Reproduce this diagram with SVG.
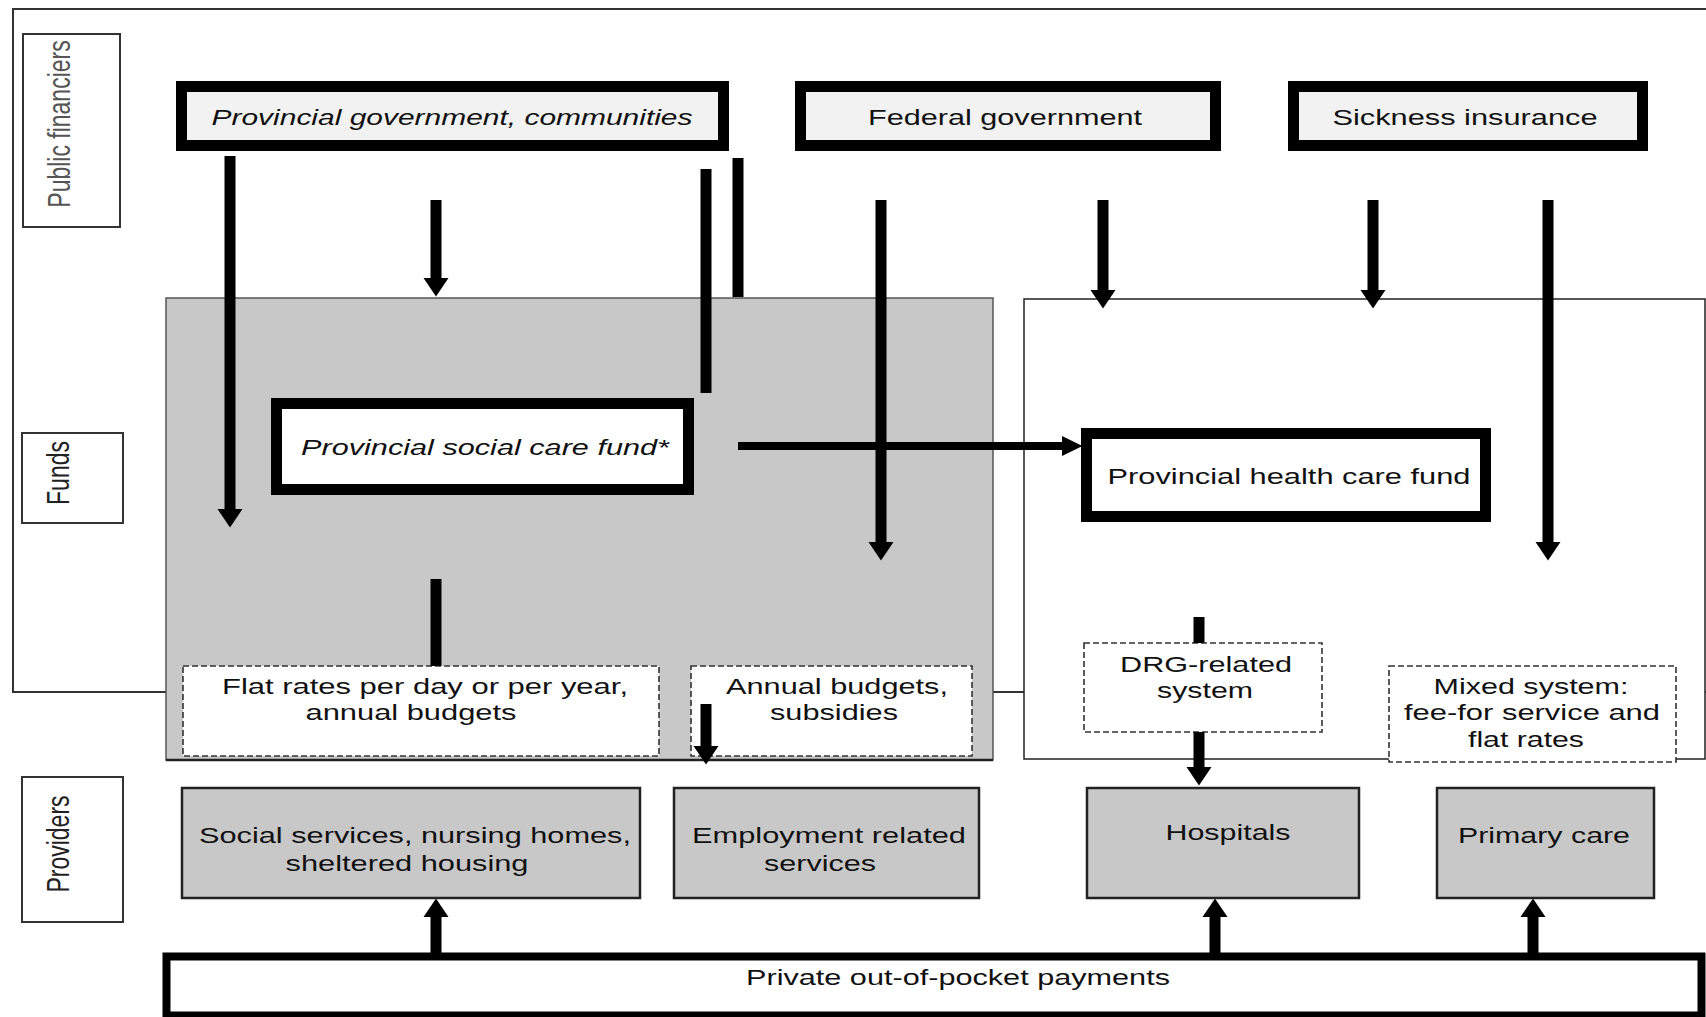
<svg xmlns="http://www.w3.org/2000/svg" width="1706" height="1017" viewBox="0 0 1706 1017">
<style>
.t{font-family:"Liberation Sans",Arial,Helvetica,sans-serif;font-size:22px;fill:#111;text-anchor:middle}
.i{font-style:italic}
.lbl{font-family:"Liberation Sans",Arial,Helvetica,sans-serif;font-size:23px;fill:#222;text-anchor:middle}
.pf{fill:#555}
.title rect{fill:#f2f2f2;stroke:#000;stroke-width:11}
.fund rect{fill:#fff;stroke:#000;stroke-width:11}
.prov rect{fill:#c8c8c8;stroke:#222;stroke-width:2.5}
.dash rect{fill:#fff;stroke:#333;stroke-width:1.6;stroke-dasharray:6 3}
.lab rect{fill:#fff;stroke:#333;stroke-width:2}
.v{stroke:#000;stroke-width:11;fill:none}
.h{stroke:#000;stroke-width:8;fill:none}
</style>
<defs>
<marker id="ah" viewBox="0 -13 19 26" refX="0" refY="0" markerWidth="19" markerHeight="26" markerUnits="userSpaceOnUse" orient="auto">
<path d="M0,-12.5 L18.5,0 L0,12.5 z" fill="#000"/>
</marker>
<marker id="ahh" viewBox="0 -11 21 22" refX="0" refY="0" markerWidth="21" markerHeight="22" markerUnits="userSpaceOnUse" orient="auto">
<path d="M0,-10 L20.5,0 L0,10 z" fill="#000"/>
</marker>
</defs>
<rect width="1706" height="1017" fill="#fff"/>

<g id="frame">
<rect x="13" y="9" width="1720" height="683" fill="none" stroke="#333" stroke-width="2"/>
</g>

<g id="label-public-financiers" class="lab">
<rect x="23" y="34" width="97" height="193"/>
<text class="lbl pf" transform="translate(70,124) scale(1.39,1) rotate(-90)">Public financiers</text>
</g>
<g id="label-funds" class="lab">
<rect x="22" y="433" width="101" height="90"/>
<text class="lbl" transform="translate(69,473) scale(1.39,1) rotate(-90)">Funds</text>
</g>
<g id="label-providers" class="lab">
<rect x="22" y="777" width="101" height="145"/>
<text class="lbl" transform="translate(69,844) scale(1.39,1) rotate(-90)">Providers</text>
</g>

<g id="region-social">
<rect x="166" y="298" width="827" height="462" fill="#c8c8c8" stroke="#555" stroke-width="1.5"/>
<line x1="166" y1="760" x2="993" y2="760" stroke="#222" stroke-width="2.5"/>
</g>
<g id="region-health">
<rect x="1024" y="299" width="681" height="460" fill="#fff" stroke="#222" stroke-width="1.5"/>
</g>

<g id="provincial-government" class="title">
<rect x="181.5" y="86.5" width="542" height="59"/>
<text class="t i" x="452" y="125" textLength="481" lengthAdjust="spacingAndGlyphs">Provincial government, communities</text>
</g>
<g id="federal-government" class="title">
<rect x="800.5" y="86.5" width="415" height="59"/>
<text class="t" x="1005" y="125" textLength="274" lengthAdjust="spacingAndGlyphs">Federal government</text>
</g>
<g id="sickness-insurance" class="title">
<rect x="1293.5" y="86.5" width="349" height="59"/>
<text class="t" x="1465" y="125" textLength="265" lengthAdjust="spacingAndGlyphs">Sickness insurance</text>
</g>

<g id="social-care-fund" class="fund">
<rect x="276.5" y="403.5" width="412" height="86"/>
<text class="t i" x="485" y="455" textLength="368" lengthAdjust="spacingAndGlyphs">Provincial social care fund*</text>
</g>
<g id="health-care-fund" class="fund">
<rect x="1086.5" y="433.5" width="399" height="83"/>
<text class="t" x="1289" y="484" textLength="363" lengthAdjust="spacingAndGlyphs">Provincial health care fund</text>
</g>

<g id="flat-rates" class="dash">
<rect x="183" y="666" width="476" height="90"/>
<text class="t" x="425" y="694" textLength="406" lengthAdjust="spacingAndGlyphs">Flat rates per day or per year,</text>
<text class="t" x="411" y="720" textLength="211" lengthAdjust="spacingAndGlyphs">annual budgets</text>
</g>
<g id="annual-budgets" class="dash">
<rect x="691" y="666" width="281" height="90"/>
<text class="t" x="837" y="694" textLength="222" lengthAdjust="spacingAndGlyphs">Annual budgets,</text>
<text class="t" x="834" y="720" textLength="128" lengthAdjust="spacingAndGlyphs">subsidies</text>
</g>
<g id="drg-system" class="dash">
<rect x="1084" y="643" width="238" height="89"/>
<text class="t" x="1206" y="672" textLength="172" lengthAdjust="spacingAndGlyphs">DRG-related</text>
<text class="t" x="1205" y="698" textLength="96" lengthAdjust="spacingAndGlyphs">system</text>
</g>
<g id="mixed-system" class="dash">
<rect x="1389" y="666" width="287" height="96"/>
<text class="t" x="1531" y="694" textLength="195" lengthAdjust="spacingAndGlyphs">Mixed system:</text>
<text class="t" x="1532" y="720" textLength="256" lengthAdjust="spacingAndGlyphs">fee-for service and</text>
<text class="t" x="1526" y="747" textLength="116" lengthAdjust="spacingAndGlyphs">flat rates</text>
</g>

<g id="social-services" class="prov">
<rect x="182" y="788" width="458" height="110"/>
<text class="t" x="415" y="843" textLength="432" lengthAdjust="spacingAndGlyphs">Social services, nursing homes,</text>
<text class="t" x="407" y="871" textLength="243" lengthAdjust="spacingAndGlyphs">sheltered housing</text>
</g>
<g id="employment-services" class="prov">
<rect x="674" y="788" width="305" height="110"/>
<text class="t" x="829" y="843" textLength="274" lengthAdjust="spacingAndGlyphs">Employment related</text>
<text class="t" x="820" y="871" textLength="112" lengthAdjust="spacingAndGlyphs">services</text>
</g>
<g id="hospitals" class="prov">
<rect x="1087" y="788" width="272" height="110"/>
<text class="t" x="1228" y="840" textLength="125" lengthAdjust="spacingAndGlyphs">Hospitals</text>
</g>
<g id="primary-care" class="prov">
<rect x="1437" y="788" width="217" height="110"/>
<text class="t" x="1544" y="843" textLength="172" lengthAdjust="spacingAndGlyphs">Primary care</text>
</g>

<g id="private-payments">
<rect x="166.5" y="956.5" width="1535" height="59" fill="#fff" stroke="#000" stroke-width="8"/>
<text class="t" x="958" y="985" textLength="424" lengthAdjust="spacingAndGlyphs">Private out-of-pocket payments</text>
</g>

<g id="connectors">
<path class="v" d="M230,156 V509" marker-end="url(#ah)"/>
<path class="v" d="M436,200 V278" marker-end="url(#ah)"/>
<path class="v" d="M706,169 V393"/>
<path class="v" d="M738,158 V297"/>
<path class="h" d="M738,446 H1062" marker-end="url(#ahh)"/>
<path class="v" d="M881,200 V542" marker-end="url(#ah)"/>
<path class="v" d="M1103,200 V290" marker-end="url(#ah)"/>
<path class="v" d="M1373,200 V290" marker-end="url(#ah)"/>
<path class="v" d="M1548,200 V542" marker-end="url(#ah)"/>
<path class="v" d="M436,579 V666"/>
<path class="v" d="M706,704 V746" marker-end="url(#ah)"/>
<path class="v" d="M1199,617 V643"/>
<path class="v" d="M1199,732 V767" marker-end="url(#ah)"/>
<path class="v" d="M436,953 V917" marker-end="url(#ah)"/>
<path class="v" d="M1215,953 V917" marker-end="url(#ah)"/>
<path class="v" d="M1533,953 V917" marker-end="url(#ah)"/>
</g>
</svg>
